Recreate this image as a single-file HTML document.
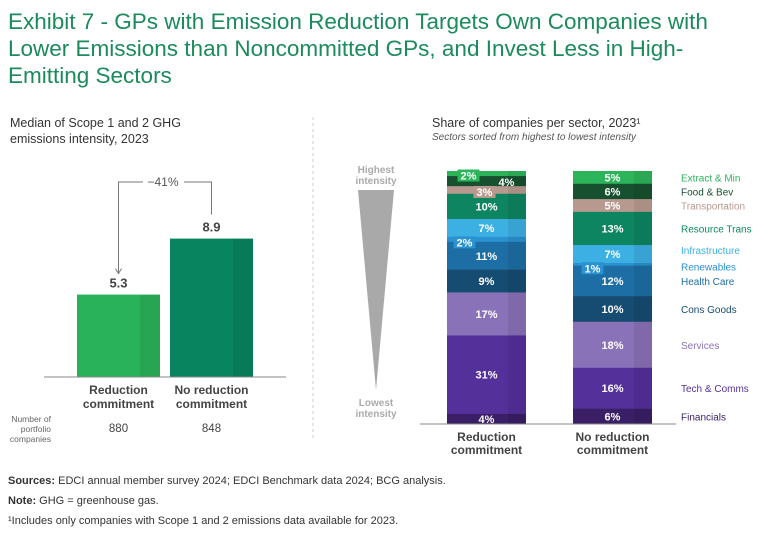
<!DOCTYPE html>
<html><head><meta charset="utf-8"><style>
body{margin:0;background:#fff;width:768px;height:538px;overflow:hidden;font-family:"Liberation Sans",sans-serif}
svg{display:block}
</style></head><body>
<svg width="768" height="538" viewBox="0 0 768 538" id="svg" font-family="Liberation Sans, sans-serif">
<g fill="#1b8a5c" font-size="22.5">
<text x="8" y="29">Exhibit 7 - GPs with Emission Reduction Targets Own Companies with</text>
<text x="8" y="56">Lower Emissions than Noncommitted GPs, and Invest Less in High-</text>
<text x="8" y="83">Emitting Sectors</text>
</g>
<g fill="#333" font-size="12.5">
<text x="10" y="127">Median of Scope 1 and 2 GHG</text>
<text x="10" y="143">emissions intensity, 2023</text>
</g>
<line x1="313" y1="117" x2="313" y2="440" stroke="#ccc" stroke-dasharray="3,3"/>
<g>
<text x="432" y="127" font-size="12.5" fill="#333">Share of companies per sector, 2023¹</text>
<text x="432" y="140" font-size="10" font-style="italic" fill="#555">Sectors sorted from highest to lowest intensity</text>
</g>
<g fill="#aaa" font-size="10" font-weight="bold" text-anchor="middle">
<text x="376" y="173">Highest</text><text x="376" y="184">intensity</text>
<polygon points="358,190 394,190 376,390" fill="#a9a9a9"/>
<text x="376" y="406">Lowest</text><text x="376" y="417">intensity</text>
</g>
<g id="left"></g>
<g id="right"></g>
<g font-size="11" fill="#333">
<text x="8" y="484"><tspan font-weight="bold">Sources:</tspan> EDCI annual member survey 2024; EDCI Benchmark data 2024; BCG analysis.</text>
<text x="8" y="504"><tspan font-weight="bold">Note:</tspan> GHG = greenhouse gas.</text>
<text x="8" y="524">¹Includes only companies with Scope 1 and 2 emissions data available for 2023.</text>
</g>
</svg>
<script>
const groups = ["Reduction commitment","No reduction commitment"];
const intensityValues = [5.3, 8.9];
const changePct = -41;
const companyCounts = ["880","848"];
const sectors = ["Extract & Min","Food & Bev","Transportation","Resource Trans","Infrastructure","Renewables","Health Care","Cons Goods","Services","Tech & Comms","Financials"];
const reductionShares = [2,4,3,10,7,2,11,9,17,31,4];
const noReductionShares = [5,6,5,13,7,1,12,10,18,16,6];
const sectorColors = ["#2db45a","#17502f","#b8998f","#0d8560","#3db0e3","#2a92d0","#1d6ea5","#164c71","#8a72b8","#54309a","#3a1f66"];
const NS="http://www.w3.org/2000/svg";
function mk(tag,attrs,parent,txt){const e=document.createElementNS(NS,tag);for(const k in attrs)e.setAttribute(k,attrs[k]);if(txt!==undefined)e.textContent=txt;parent.appendChild(e);return e;}
// LEFT chart
const L=document.getElementById('left');
const baseY=377, yPer=15.55;
const yL=v=>baseY-v*yPer;
const barX=[77,170], barW=83, barCols=["#2ab25a","#08845f"];
intensityValues.forEach((v,i)=>{
  const r=mk('rect',{x:barX[i],y:yL(v),width:barW,height:baseY-yL(v),fill:barCols[i]},L);
  
  
  mk('rect',{x:barX[i]+63,y:yL(v),width:20,height:baseY-yL(v),fill:'rgba(0,0,0,0.07)'},L);
  const t=mk('text',{x:barX[i]+barW/2,y:yL(v)-7,'text-anchor':'middle','font-size':13,'font-weight':'bold',fill:'#444'},L,v.toFixed(1));
  
  
  const words=groups[i].split(' ');
  const l1=words.slice(0,-1).join(' '), l2=words[words.length-1];
  mk('text',{x:barX[i]+barW/2,y:394,'text-anchor':'middle','font-size':12,'font-weight':'bold',fill:'#444'},L,l1);
  mk('text',{x:barX[i]+barW/2,y:408,'text-anchor':'middle','font-size':12,'font-weight':'bold',fill:'#444'},L,l2);
  mk('text',{x:barX[i]+barW/2,y:432,'text-anchor':'middle','font-size':11.5,fill:'#444'},L,companyCounts[i]);
});
mk('line',{x1:44,y1:baseY,x2:286,y2:baseY,stroke:'#888'},L);
['Number of','portfolio','companies'].forEach((s,k)=>mk('text',{x:51,y:422+k*10,'text-anchor':'end','font-size':8.5,fill:'#666'},L,s));
const bx1=barX[0]+barW/2, bx2=barX[1]+barW/2;
const br=mk('path',{d:`M${bx1},${yL(intensityValues[0])-22} V182 H143 M184,182 H${bx2} V${yL(intensityValues[1])-24}`,fill:'none',stroke:'#777','stroke-width':1},L);


mk('path',{d:`M${bx1-3},${yL(intensityValues[0])-26} L${bx1},${yL(intensityValues[0])-21} L${bx1+3},${yL(intensityValues[0])-26}`,fill:'none',stroke:'#777'},L);
mk('text',{x:163,y:186,'text-anchor':'middle','font-size':12,fill:'#555'},L,'\u2212'+Math.abs(changePct)+'%');
// RIGHT chart
const R=document.getElementById('right');
const topY=171, botY=424, rx=[447,573], rw=79;
const labels=[];
[reductionShares,noReductionShares].forEach((arr,gi)=>{
  const tot=arr.reduce((a,b)=>a+b,0);
  const sc=(botY-topY)/tot;
  let y=topY;
  arr.forEach((v,si)=>{
    const h=v*sc;
    const r=mk('rect',{x:rx[gi],y:y,width:rw,height:h+0.3,fill:sectorColors[si]},R);
    
    
    mk('rect',{x:rx[gi]+61,y:y,width:18,height:h+0.3,fill:'rgba(0,0,0,0.07)'},R);
    let cx=rx[gi]+rw/2, cy=y+h/2+4, box=false;
    if(gi===0 && si===0){cx-=18;cy+=2;box=true;}
    else if(gi===0 && si===1){cx+=20;cy+=1;}
    else if(gi===0 && si===2){cx-=2;cy+=2;box=true;}
    else if(gi===0 && si===5){cx-=22;cy+=3;box=true;}
    else if(gi===1 && si===5){cx-=20;cy+=4;box=true;}
    labels.push({cx,cy,box,col:sectorColors[si],txt:v+'%'});
    if(gi===1){
      let ly=y+h/2+4;
      if(si===4) ly-=4;
      if(si===5) ly+=2;
      const lt=mk('text',{x:681,y:ly,'font-size':10,fill:sectorColors[si]},R,sectors[si]);
      
      
    }
    y+=h;
  });
  const words=groups[gi].split(' ');
  mk('text',{x:rx[gi]+rw/2,y:441,'text-anchor':'middle','font-size':12,'font-weight':'bold',fill:'#444'},R,words.slice(0,-1).join(' '));
  mk('text',{x:rx[gi]+rw/2,y:454,'text-anchor':'middle','font-size':12,'font-weight':'bold',fill:'#444'},R,words[words.length-1]);
});
labels.forEach(o=>{
  if(o.box) mk('rect',{x:o.cx-11,y:o.cy-10,width:22,height:12,fill:o.col},R);
  const t=mk('text',{x:o.cx,y:o.cy,'text-anchor':'middle','font-size':11,'font-weight':'bold',fill:'#fff'},R,o.txt);
  
  
});
mk('line',{x1:420,y1:botY,x2:676,y2:botY,stroke:'#888'},R);
</script>
</body></html>
